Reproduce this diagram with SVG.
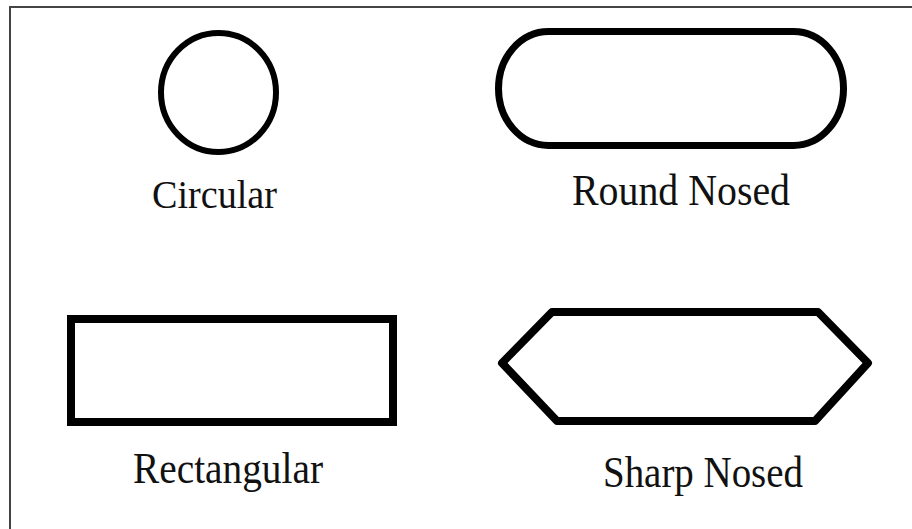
<svg xmlns="http://www.w3.org/2000/svg" width="912" height="529" viewBox="0 0 912 529">
<style>
.shape{fill:none;stroke:#000;stroke-linejoin:round}
.lbl{font-family:"Liberation Serif","Times New Roman",serif;fill:#111}
</style>
<rect width="912" height="529" fill="#fff"/>
<path d="M10,529 V7 H912" fill="none" stroke="#444" stroke-width="2"/>
<g id="connectors"></g>
<g id="circular">
<ellipse class="shape" cx="218.5" cy="92.5" rx="57.5" ry="59.5" stroke-width="6"/>
<text class="lbl" transform="translate(152,208) scale(1,1.1)" font-size="37" textLength="125" lengthAdjust="spacingAndGlyphs">Circular</text>
</g>
<g id="round-nosed">
<rect class="shape" x="498.5" y="31.5" width="345" height="114" rx="50" ry="57" stroke-width="7"/>
<text class="lbl" transform="translate(572,205) scale(1,1.12)" font-size="40" textLength="218" lengthAdjust="spacingAndGlyphs">Round Nosed</text>
</g>
<g id="rectangular">
<rect x="71" y="319" width="322" height="103" fill="none" stroke="#000" stroke-width="8"/>
<text class="lbl" transform="translate(133,483) scale(1,1.12)" font-size="39" textLength="190" lengthAdjust="spacingAndGlyphs">Rectangular</text>
</g>
<g id="sharp-nosed">
<polygon class="shape" points="552,312 818,312 868,363 815,421 557,421 502,363" stroke-width="8" stroke-linejoin="miter"/>
<text class="lbl" transform="translate(603,487) scale(1,1.12)" font-size="39" textLength="200" lengthAdjust="spacingAndGlyphs">Sharp Nosed</text>
</g>
</svg>
